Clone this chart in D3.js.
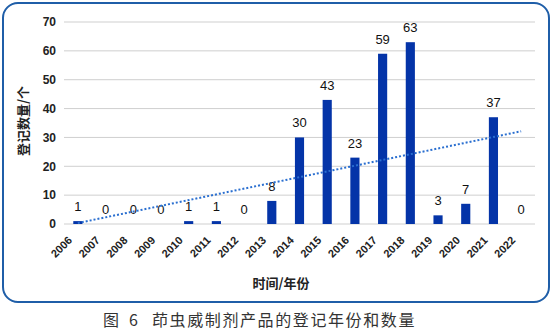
<!DOCTYPE html>
<html><head><meta charset="utf-8">
<script src="https://cdn.jsdelivr.net/npm/d3@7"></script>
<style>body{margin:0;background:#fff}svg{display:block}</style>
</head><body>
<svg id="c" width="554" height="332"></svg>
<script>
const years = ["2006","2007","2008","2009","2010","2011","2012","2013","2014","2015","2016","2017","2018","2019","2020","2021","2022"];
const counts = [1,0,0,0,1,1,0,8,30,43,23,59,63,3,7,37,0];
const yTicks = [0,10,20,30,40,50,60,70];
const yTitle = "登记数量/个";
const xTitle = "时间/年份";
const captionParts = ["图", "6", "茚虫威制剂产品的登记年份和数量"];

const svg = d3.select("#c");
svg.append("rect").attr("x",3).attr("y",3).attr("width",546).attr("height",299)
  .attr("rx",15).attr("fill","#fff").attr("stroke","#1f5ea8").attr("stroke-width",2);

const x = d3.scaleBand().domain(years).range([64,535]).paddingInner(0.67).paddingOuter(0.335);
const y = d3.scaleLinear().domain([0,70]).range([224,22]);

const font = "Arial, 'Liberation Sans', 'Noto Sans CJK SC', sans-serif";

// grid
svg.append("g").selectAll("line").data(yTicks).join("line")
  .attr("x1",64).attr("x2",535).attr("y1",d=>y(d)).attr("y2",d=>y(d))
  .attr("stroke","#cfcfcf").attr("stroke-width",1);

// y axis labels
const yAxis = d3.axisLeft(y).tickValues(yTicks).tickSize(0).tickPadding(0);
const gy = svg.append("g").attr("transform","translate(56,0)").call(yAxis);
gy.select(".domain").remove();
gy.selectAll("text").attr("font-family",font).attr("font-size",12).attr("font-weight","bold").attr("fill","#222");

// bars
svg.append("g").selectAll("rect").data(years).join("rect")
  .attr("x",d=>x(d)).attr("width",x.bandwidth())
  .attr("y",(d,i)=>y(counts[i])).attr("height",(d,i)=>y(0)-y(counts[i]))
  .attr("fill","#0434a8");

// value labels
svg.append("g").selectAll("text").data(years).join("text")
  .attr("x",d=>x(d)+x.bandwidth()/2).attr("y",(d,i)=>y(counts[i])-10)
  .attr("text-anchor","middle").attr("font-family",font).attr("font-size",13)
  .attr("fill","#111").text((d,i)=>counts[i]);

// linear trend (least squares on counts)
const n = counts.length;
const xs = counts.map((_,i)=>i);
const mx = d3.mean(xs), my = d3.mean(counts);
const slope = d3.sum(xs.map((xi,i)=>(xi-mx)*(counts[i]-my))) / d3.sum(xs.map(xi=>(xi-mx)*(xi-mx)));
const icpt = my - slope*mx;
const cx = i => x(years[i]) + x.bandwidth()/2;
svg.append("line")
  .attr("x1",cx(0)).attr("y1",y(icpt))
  .attr("x2",cx(n-1)).attr("y2",y(icpt+slope*(n-1)))
  .attr("stroke","#2a6fd0").attr("stroke-width",2).attr("stroke-dasharray","2,2");

// x tick labels rotated
svg.append("g").selectAll("text").data(years).join("text")
  .attr("transform",d=>`translate(${x(d)+x.bandwidth()/2-5},${241}) rotate(-45)`)
  .attr("text-anchor","end").attr("font-family",font).attr("font-size",11).attr("font-weight","bold")
  .attr("fill","#222").text(d=>d);

// axis titles
svg.append("text").attr("x",281).attr("y",288).attr("text-anchor","middle")
  .attr("font-family","'Noto Sans CJK SC', sans-serif").attr("font-size",13).attr("font-weight","bold")
  .attr("fill","#222").text(xTitle);
svg.append("text").attr("transform","translate(28,121) rotate(-90)").attr("text-anchor","middle")
  .attr("font-family","'Noto Sans CJK SC', sans-serif").attr("font-size",13).attr("font-weight","bold")
  .attr("fill","#222").text(yTitle);

// caption
const cap = svg.append("text").attr("y",326)
  .attr("font-family","'Noto Sans CJK SC', sans-serif").attr("font-size",16)
  .attr("fill","#333");
cap.append("tspan").attr("x",103).text(captionParts[0]);
cap.append("tspan").attr("x",129).text(captionParts[1]);
cap.append("tspan").attr("x",152).attr("letter-spacing",1.6).text(captionParts[2]);
</script>
</body></html>
